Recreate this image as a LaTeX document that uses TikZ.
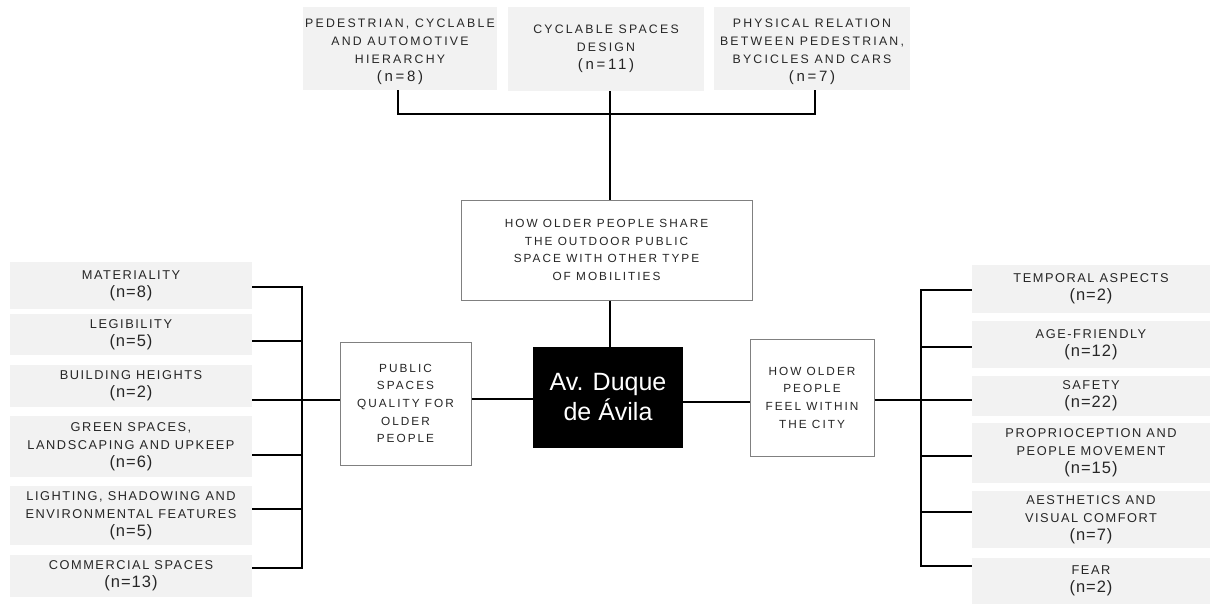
\documentclass[tikz,border=0pt]{standalone}
\usepackage{fontspec}
\usetikzlibrary{shadows}
\setmainfont{Liberation Sans}
\newfontfamily\labfont[LetterSpace=12]{Liberation Sans}
\newfontfamily\topfont[LetterSpace=18]{Liberation Sans}
\newfontfamily\midfont[LetterSpace=17]{Liberation Sans}
\newfontfamily\cntfont[LetterSpace=6]{Liberation Sans}
\definecolor{boxgray}{RGB}{242,242,242}
\definecolor{txt}{RGB}{38,38,38}
\definecolor{edge}{RGB}{128,128,128}
\newcommand{\cnt}[1]{{\cntfont\fontsize{16.5}{19.5}\selectfont(n=#1)}}
\newcommand{\tcnt}[1]{{\fontsize{15}{19}\selectfont(n=#1)}}
\tikzset{
  gbox/.style={fill=boxgray, inner sep=0pt, align=center, text=txt,
    font=\labfont\fontsize{12.8}{18}\selectfont},
  tbox/.style={fill=boxgray, inner sep=0pt, align=center, text=txt,
    font=\topfont\fontsize{12.3}{18}\selectfont},
  wbox/.style={fill=white, draw=edge, line width=1pt, inner sep=0pt, align=center, text=txt,
    font=\midfont\fontsize{11.8}{17.7}\selectfont,
    drop shadow={shadow xshift=1.2pt, shadow yshift=-1.2pt, opacity=0.25, fill=black}},
  bbox/.style={fill=black, inner sep=0pt, align=center, text=white,
    font=\fontsize{25}{30}\selectfont},
  conn/.style={draw=black, line width=2pt}
}
\begin{document}
\begin{tikzpicture}[x=1pt,y=-1pt]
\useasboundingbox[fill=white] (0,0) rectangle (1211,605);

% top boxes
\node[tbox, minimum width=194, minimum height=83, text height=70pt] (t1) at (400,48.5)
  {PEDESTRIAN, CYCLABLE\\AND AUTOMOTIVE\\HIERARCHY\\\tcnt{8}};
\node[tbox, minimum width=196, minimum height=84] (t2) at (606,49)
  {CYCLABLE SPACES\\DESIGN\\\tcnt{11}};
\node[tbox, minimum width=196, minimum height=83, text height=70pt] (t3) at (812,48.5)
  {PHYSICAL RELATION\\BETWEEN PEDESTRIAN,\\BYCICLES AND CARS\\\tcnt{7}};

% middle boxes
\node[wbox, minimum width=291, minimum height=100] (share) at (606.5,250)
  {HOW OLDER PEOPLE SHARE\\THE OUTDOOR PUBLIC\\SPACE WITH OTHER TYPE\\OF MOBILITIES};
\node[bbox, minimum width=150, minimum height=101] (av) at (608,397.5)
  {Av. Duque\\de Ávila};
\node[wbox, minimum width=131, minimum height=123] (pub) at (405.5,403.5)
  {PUBLIC\\SPACES\\QUALITY FOR\\OLDER\\PEOPLE};
\node[wbox, minimum width=124, minimum height=117] (feel) at (812,397.5)
  {HOW OLDER\\PEOPLE\\FEEL WITHIN\\THE CITY};

% left boxes
\node[gbox, minimum width=242, minimum height=47] (mat) at (131,285.5) {MATERIALITY\\\cnt{8}};
\node[gbox, minimum width=242, minimum height=41] (leg) at (131,334.5) {LEGIBILITY\\\cnt{5}};
\node[gbox, minimum width=242, minimum height=42] (bh) at (131,386) {BUILDING HEIGHTS\\\cnt{2}};
\node[gbox, minimum width=242, minimum height=61] (grn) at (131,446.5) {GREEN SPACES,\\LANDSCAPING AND UPKEEP\\\cnt{6}};
\node[gbox, minimum width=242, minimum height=59] (lit) at (131,515.5) {LIGHTING, SHADOWING AND\\ENVIRONMENTAL FEATURES\\\cnt{5}};
\node[gbox, minimum width=242, minimum height=42] (com) at (131,576) {COMMERCIAL SPACES\\\cnt{13}};

% right boxes
\node[gbox, minimum width=238, minimum height=48] (tmp) at (1091,289) {TEMPORAL ASPECTS\\\cnt{2}};
\node[gbox, minimum width=238, minimum height=47] (age) at (1091,344.5) {AGE-FRIENDLY\\\cnt{12}};
\node[gbox, minimum width=238, minimum height=40] (saf) at (1091,396) {SAFETY\\\cnt{22}};
\node[gbox, minimum width=238, minimum height=60] (pro) at (1091,453) {PROPRIOCEPTION AND\\PEOPLE MOVEMENT\\\cnt{15}};
\node[gbox, minimum width=238, minimum height=57] (aes) at (1091,519.5) {AESTHETICS AND\\VISUAL COMFORT\\\cnt{7}};
\node[gbox, minimum width=238, minimum height=46] (fear) at (1091,581) {FEAR\\\cnt{2}};

% bus coordinates
\coordinate (busL) at (302,400);
\coordinate (busR) at (921,400);
\coordinate (busT) at (610,114);

% top connectors
\draw[conn] ([xshift=-2pt]t1.south) |- (busT);
\draw[conn] ([xshift=3pt]t3.south) |- (busT);
\draw[conn] ([xshift=4pt]t2.south) -- ([xshift=4pt]t2.south |- share.north);
\draw[conn] ([xshift=3pt]share.south) -- ([xshift=3pt]share.south |- av.north);

% center connectors
\draw[conn] ([yshift=-1.5pt]av.west) -- ([yshift=-1.5pt]av.west -| pub.east);
\draw[conn] ([yshift=-4pt]av.east) -- ([yshift=-4pt]av.east -| feel.west);
\draw[conn] ([yshift=3.5pt]pub.west) -- ([yshift=3.5pt]pub.west -| busL);
\draw[conn] ([yshift=-2.5pt]feel.east) -- ([yshift=-2.5pt]feel.east -| busR);

% left bus
\draw[conn] ([yshift=-1.5pt]mat.east) -- ([yshift=-1.5pt]mat.east -| busL)
  -- ([yshift=8pt]com.east -| busL) -- ([yshift=8pt]com.east);
\draw[conn] ([yshift=-6.5pt]leg.east) -- ([yshift=-6.5pt]leg.east -| busL);
\draw[conn] ([yshift=3.5pt]bh.east |- pub.west) -- ([yshift=3.5pt]pub.west -| busL);
\draw[conn] ([yshift=-8.5pt]grn.east) -- ([yshift=-8.5pt]grn.east -| busL);
\draw[conn] ([yshift=6.5pt]lit.east) -- ([yshift=6.5pt]lit.east -| busL);

% right bus
\draw[conn] ([yshift=-1pt]tmp.west) -- ([yshift=-1pt]tmp.west -| busR)
  -- ([yshift=15pt]fear.west -| busR) -- ([yshift=15pt]fear.west);
\draw[conn] ([yshift=-2.5pt]age.west) -- ([yshift=-2.5pt]age.west -| busR);
\draw[conn] ([yshift=-4pt]saf.west) -- ([yshift=-4pt]saf.west -| busR);
\draw[conn] ([yshift=-3pt]pro.west) -- ([yshift=-3pt]pro.west -| busR);
\draw[conn] ([yshift=7.5pt]aes.west) -- ([yshift=7.5pt]aes.west -| busR);
\end{tikzpicture}
\end{document}
